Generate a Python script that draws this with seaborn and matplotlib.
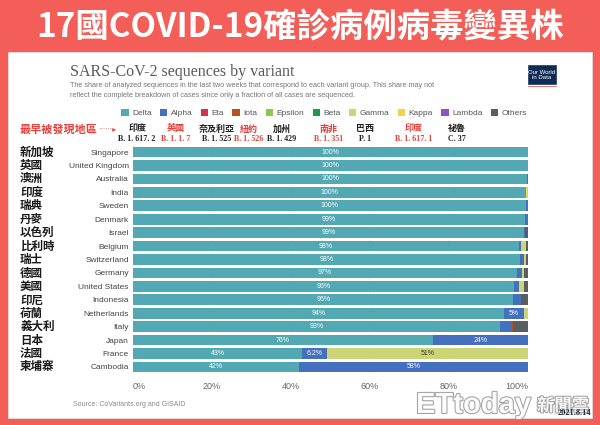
import numpy as np
import pandas as pd
import matplotlib
matplotlib.use("Agg")
import matplotlib.pyplot as plt
import seaborn as sns
from matplotlib.patches import Rectangle
from matplotlib.transforms import blended_transform_factory
import matplotlib.patheffects as pe

# ---------------- data ----------------
title = "17國COVID-19確診病例病毒變異株"
chart_title = "SARS-CoV-2 sequences by variant"
subtitle = ("The share of analyzed sequences in the last two weeks that correspond to each variant group. This share may not\n"
            "reflect the complete breakdown of cases since only a fraction of all cases are sequenced.")
source = "Source: CoVariants.org and GISAID"

countries_en = ["Singapore", "United Kingdom", "Australia", "India", "Sweden", "Denmark", "Israel",
                "Belgium", "Switzerland", "Germany", "United States", "Indonesia", "Netherlands",
                "Italy", "Japan", "France", "Cambodia"]
countries_zh = ["新加坡", "英國", "澳洲", "印度", "瑞典", "丹麥", "以色列", "比利時", "瑞士", "德國",
                "美國", "印尼", "荷蘭", "義大利", "日本", "法國", "柬埔寨"]

variants = ["Delta", "Alpha", "Eta", "Iota", "Epsilon", "Beta", "Gamma", "Kappa", "Lambda", "Others"]
variant_colors = ["#53A9B3", "#4470BE", "#D2334A", "#B9501F", "#8DC849", "#1C9A4C",
                  "#CBD577", "#F1D445", "#8E52C8", "#5A5E63"]

origin_place = ["印度", "英國", "奈及利亞", "紐約", "加州", "南非", "巴西", "印度", "祕魯"]
origin_code = ["B.1.617.2", "B.1.1.7", "B.1.525", "B.1.526", "B.1.429", "B.1.351", "P.1", "B.1.617.1", "C.37"]
origin_red = [False, True, False, True, False, True, False, True, False]

delta   = [100.0, 99.9, 99.8, 99.6, 99.6, 99.2, 98.9, 97.7, 97.9, 97.2, 96.4, 96.3, 94.0, 93.0, 76.0, 42.8, 42.0]
alpha   = [0.0, 0.0, 0.2, 0.0, 0.4, 0.8, 0.4, 0.6, 1.0, 1.3, 1.4, 1.9, 5.0, 3.0, 24.0, 6.2, 58.0]
eta     = [0.0] * 17
iota    = [0.0, 0.0, 0.0, 0.0, 0.0, 0.0, 0.0, 0.0, 0.0, 0.0, 0.0, 0.0, 0.0, 0.3, 0.0, 0.0, 0.0]
epsilon = [0.0] * 17
beta    = [0.0] * 17
gamma   = [0.0, 0.0, 0.0, 0.0, 0.0, 0.0, 0.0, 1.1, 0.5, 0.6, 1.3, 0.0, 1.0, 0.0, 0.0, 51.0, 0.0]
kappa   = [0.0, 0.0, 0.0, 0.4, 0.0, 0.0, 0.0, 0.0, 0.0, 0.0, 0.0, 0.0, 0.0, 0.0, 0.0, 0.0, 0.0]
lambda_ = [0.0] * 17
others  = [0.0, 0.1, 0.0, 0.0, 0.0, 0.0, 0.7, 0.6, 0.6, 0.9, 0.9, 1.8, 0.0, 3.7, 0.0, 0.0, 0.0]

xticks = [0, 20, 40, 60, 80, 100]
xtick_labels = ["0%", "20%", "40%", "60%", "80%", "100%"]

# ---------------- style ----------------
sns.set_style("white")
plt.rcParams["font.family"] = ["Liberation Sans", "Noto Sans CJK TC", "DejaVu Sans"]
CJK = ["Noto Sans CJK TC", "DejaVu Sans"]

RED_BG = "#F35E58"
W, H = 600, 425
fig = plt.figure(figsize=(6, 4.25), dpi=100, facecolor=RED_BG)

def fx(px):
    return px / W

def fy(py):
    return 1 - py / H

# white panel (behind everything)
fig.patches.append(Rectangle((fx(8), fy(418)), fx(584), 366 / H, transform=fig.transFigure,
                             facecolor="white", edgecolor="#dddddd", linewidth=0.6, zorder=-10))

fig.text(0.5, fy(28), title, ha="center", va="center", fontsize=24, fontweight="bold",
         color="white", family=CJK)

# OWID header
fig.text(fx(70), fy(72), chart_title, ha="left", va="center", fontsize=11.5,
         family=["Liberation Serif", "DejaVu Serif"], color="#5b5b5b")
fig.text(fx(70), fy(90.5), subtitle, ha="left", va="center", fontsize=5.2, color="#777777",
         linespacing=1.45)
fig.patches.append(Rectangle((fx(527), fy(87)), fx(30), 23 / H, transform=fig.transFigure,
                             facecolor="#0F2B55", zorder=2))
fig.patches.append(Rectangle((fx(527), fy(87)), fx(30), 2 / H, transform=fig.transFigure,
                             facecolor="#CE261E", zorder=3))
fig.text(fx(542), fy(75), "Our World\nin Data", ha="center", va="center", fontsize=4.3,
         color="white", linespacing=1.0, zorder=4)

# ---------------- main chart ----------------
ax = fig.add_axes([fx(133), fy(373.7), fx(528) - fx(133), (373.7 - 145.3) / H])
ax.set_facecolor("none")

shares = np.array([delta, alpha, eta, iota, epsilon, beta, gamma, kappa, lambda_, others])
cum = np.cumsum(shares, axis=0)

for k in reversed(range(len(variants))):
    sns.barplot(x=cum[k], y=countries_en, color=variant_colors[k], orient="h", width=0.8,
                saturation=1, linewidth=0, errorbar=None, ax=ax, zorder=2)

def fmt(v):
    if v >= 9.95:
        return f"{v:.0f}%"
    return f"{v:.1f}".rstrip("0").rstrip(".") + "%"

for k in range(len(variants)):
    for i in range(len(countries_en)):
        v = shares[k, i]
        if v >= 4:
            start = cum[k, i] - v
            col = "#333333" if variants[k] in ("Gamma", "Kappa", "Epsilon") else "white"
            ax.text(start + v / 2, i, fmt(v), ha="center", va="center", fontsize=5,
                    color=col, zorder=5)

ax.set_xlim(0, 100)
ax.set_ylim(len(countries_en) - 0.5, -0.5)
ax.set_xticks(xticks)
ax.set_xticklabels(xtick_labels, fontsize=6.5, color="#666666")
xl = ax.get_xticklabels()
xl[0].set_ha("left")
xl[-1].set_ha("right")
ax.tick_params(axis="x", length=0, pad=6)
ax.tick_params(axis="y", length=0, pad=3, labelsize=6, labelcolor="#444444")
ax.set_xlabel("")
ax.set_ylabel("")
ax.xaxis.grid(True, color="#dddddd", linestyle=(0, (2, 2)), linewidth=0.5, zorder=0)
ax.set_axisbelow(True)
for s in ax.spines.values():
    s.set_visible(False)

trans = blended_transform_factory(fig.transFigure, ax.transData)
for i, name in enumerate(countries_zh):
    ax.text(fx(20), i, name, transform=trans, ha="left", va="center", fontsize=8.3,
            fontweight="bold", color="#1a1a1a", family=CJK)

# ---------------- legend ----------------
handles = [Rectangle((0, 0), 1, 1, facecolor=c, edgecolor="none") for c in variant_colors]
leg = fig.legend(handles, variants, loc="center", bbox_to_anchor=(fx(324), fy(113)), ncol=10,
                 frameon=False, fontsize=6, handlelength=0.9, handleheight=0.9,
                 handletextpad=0.4, columnspacing=1.0, labelcolor="#555555",
                 borderpad=0, borderaxespad=0)

fig.text(fx(20), fy(129), "最早被發現地區", ha="left", va="center", fontsize=8,
         fontweight="bold", color="#E5403B", family=CJK)
fig.text(fx(98), fy(129), "······▸", ha="left", va="center", fontsize=5.5,
         color="#E5403B", family=["DejaVu Sans"])

fig.canvas.draw()
renderer = fig.canvas.get_renderer()
for i, (place, code, red) in enumerate(zip(origin_place, origin_code, origin_red)):
    hb = leg.legend_handles[i].get_window_extent(renderer)
    cx = (hb.x0 + 16) / (fig.dpi * fig.get_figwidth())
    col = "#E5403B" if red else "#222222"
    fig.text(cx, fy(129), place, ha="center", va="center", fontsize=6.5, fontweight="bold",
             color=col, family=CJK)
    fig.text(cx, fy(139), code.replace(".", ". "), ha="center", va="center", fontsize=5.8,
             fontweight="bold", color=col, family=["Liberation Serif", "DejaVu Serif"])

# ---------------- footer ----------------
fig.text(fx(73), fy(405), source, ha="left", va="center", fontsize=5, color="#8a8a8a")
fig.text(fx(574), fy(413), "2021.8.14", ha="center", va="center", fontsize=6, fontweight="bold",
         color="#1d2b3a", family=["Liberation Serif", "DejaVu Serif"], zorder=5)
wm_fx = [pe.withStroke(linewidth=1.5, foreground="#9a9a9a")]
fig.text(fx(416), fy(405), "ETtoday", ha="left", va="center", fontsize=21, fontweight="bold",
         color="white", alpha=0.92, path_effects=wm_fx, zorder=3)
fig.text(fx(537), fy(406), "新聞雲", ha="left", va="center", fontsize=12.5, fontweight="bold",
         color="white", alpha=0.92, family=CJK, path_effects=wm_fx, zorder=3)

fig.savefig("out.png", dpi=100, facecolor=RED_BG)
